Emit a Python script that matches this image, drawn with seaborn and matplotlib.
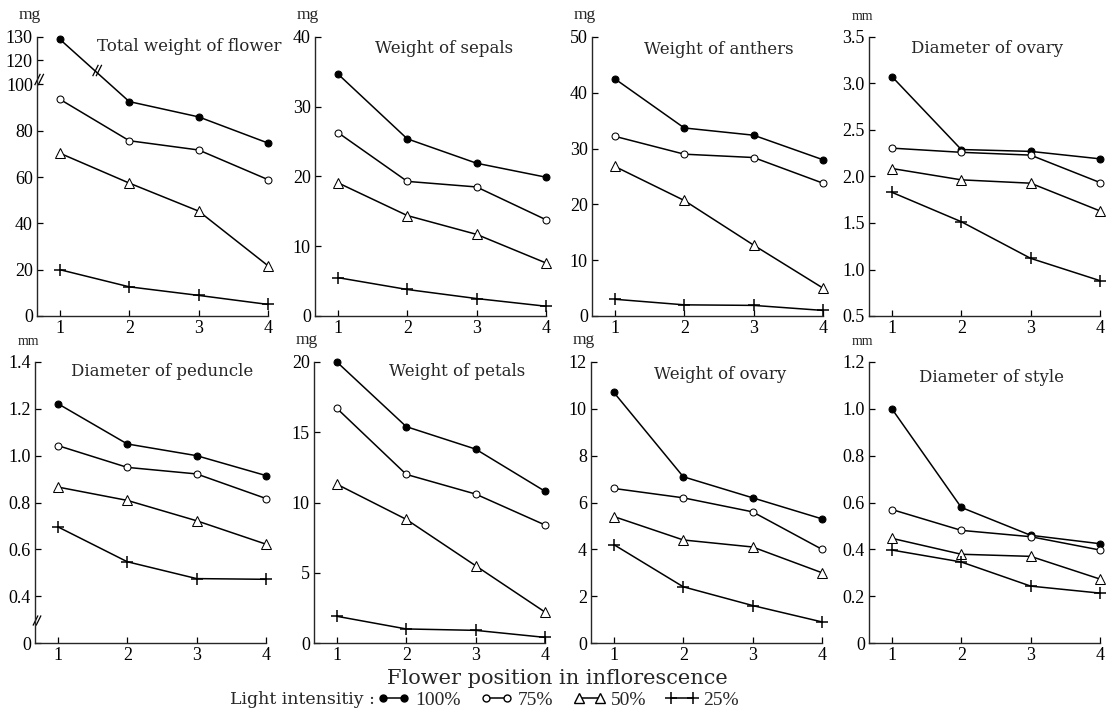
import numpy as np
import pandas as pd
import matplotlib
matplotlib.use("Agg")
import matplotlib.pyplot as plt
from matplotlib.path import Path
import seaborn as sns

# ---- data ----
positions = [1, 2, 3, 4]
levels = ["100%", "75%", "50%", "25%"]

# each panel: one list per light level, in order 100 / 75 / 50 / 25 %
total_flower = [[129, 92.6, 86, 74.7], [93.6, 75.7, 71.7, 58.9],
                [70.3, 57.4, 45.3, 21.7], [20, 12.6, 8.9, 5]]
sepals = [[34.7, 25.4, 21.9, 19.9], [26.3, 19.3, 18.5, 13.8],
          [19.1, 14.4, 11.7, 7.6], [5.5, 3.8, 2.5, 1.4]]
anthers = [[42.5, 33.7, 32.4, 28.0], [32.2, 29.0, 28.4, 23.8],
           [26.8, 20.7, 12.7, 5.0], [3.0, 2.0, 1.9, 1.0]]
ovary_diam = [[3.075, 2.29, 2.27, 2.19], [2.305, 2.26, 2.23, 1.935],
              [2.086, 1.964, 1.928, 1.63], [1.83, 1.514, 1.12, 0.88]]
peduncle = [[1.222, 1.05, 1.0, 0.915], [1.043, 0.95, 0.922, 0.817],
            [0.866, 0.809, 0.722, 0.622], [0.696, 0.547, 0.475, 0.472]]
petals = [[20.0, 15.4, 13.8, 10.8], [16.7, 12.0, 10.6, 8.4],
          [11.3, 8.8, 5.5, 2.2], [1.9, 1.0, 0.9, 0.4]]
ovary_weight = [[10.7, 7.1, 6.2, 5.3], [6.6, 6.2, 5.6, 4.0],
                [5.4, 4.4, 4.1, 3.0], [4.2, 2.4, 1.6, 0.9]]
style_diam = [[1.0, 0.579, 0.46, 0.424], [0.57, 0.481, 0.454, 0.397],
              [0.447, 0.379, 0.37, 0.273], [0.397, 0.346, 0.243, 0.213]]

titles = ["Total weight of flower", "Weight of sepals", "Weight of anthers", "Diameter of ovary",
          "Diameter of peduncle", "Weight of petals", "Weight of ovary", "Diameter of style"]
units = ["mg", "mg", "mg", "mm", "mm", "mg", "mg", "mm"]
panels = [total_flower, sepals, anthers, ovary_diam, peduncle, petals, ovary_weight, style_diam]
yticks = [[0, 20, 40, 60, 80, 100, 120, 130], [0, 10, 20, 30, 40], [0, 10, 20, 30, 40, 50],
          [0.5, 1.0, 1.5, 2.0, 2.5, 3.0, 3.5], [0, 0.4, 0.6, 0.8, 1.0, 1.2, 1.4],
          [0, 5, 10, 15, 20], [0, 2, 4, 6, 8, 10, 12], [0, 0.2, 0.4, 0.6, 0.8, 1.0, 1.2]]
ylabels = [["0", "20", "40", "60", "80", "100", "120", "130"], ["0", "10", "20", "30", "40"],
           ["0", "10", "20", "30", "40", "50"], ["0.5", "1.0", "1.5", "2.0", "2.5", "3.0", "3.5"],
           ["0", "0.4", "0.6", "0.8", "1.0", "1.2", "1.4"], ["0", "5", "10", "15", "20"],
           ["0", "2", "4", "6", "8", "10", "12"], ["0", "0.2", "0.4", "0.6", "0.8", "1.0", "1.2"]]
title_pos = [(0.66, 0.965), (0.56, 0.96), (0.55, 0.955), (0.51, 0.96),
             (0.55, 0.965), (0.62, 0.965), (0.56, 0.955), (0.53, 0.945)]

# marker styles per light level
styles = {
    "100%": dict(marker="o", markersize=5, markerfacecolor="black"),
    "75%": dict(marker="o", markersize=5, markerfacecolor="white"),
    "50%": dict(marker="^", markersize=7, markerfacecolor="white"),
    "25%": dict(marker="+", markersize=9, markeredgewidth=1.1),
}

sns.set_theme(style="ticks")
plt.rcParams["font.family"] = ["Liberation Serif", "DejaVu Serif"]
plt.rcParams["axes.linewidth"] = 1.0


# broken y axis for the first panel (100..110 squeezed out)
def fwd_total(v):
    v = np.asarray(v, dtype=float)
    return np.where(v <= 100, v, np.where(v <= 110, 100 + (v - 100) * 0.05, v - 9.5))


def inv_total(y):
    y = np.asarray(y, dtype=float)
    return np.where(y <= 100, y, np.where(y <= 100.5, 100 + (y - 100) / 0.05, y + 9.5))


# broken y axis for peduncle (0..0.4 squeezed)
def fwd_ped(v):
    v = np.asarray(v, dtype=float)
    return np.where(v >= 0.4, v, 0.2 + 0.5 * v)


def inv_ped(y):
    y = np.asarray(y, dtype=float)
    return np.where(y >= 0.4, y, (y - 0.2) * 2)


break_mark = Path([(-0.5, -1), (0.5, 1), (-0.5 + 0.6, -1), (0.5 + 0.6, 1)],
                  [Path.MOVETO, Path.LINETO, Path.MOVETO, Path.LINETO])

fig = plt.figure(figsize=(11.13, 7.13), dpi=100)
W, H = 1113, 713
row_px = [(37, 316), (362, 643)]
col_px = [[37, 315, 592, 869], [35, 314, 591, 869]]
width_px = 231

axes = []
for i in range(8):
    r, c = divmod(i, 4)
    top, bottom = row_px[r]
    left = col_px[r][c]
    ax = fig.add_axes([left / W, (H - bottom) / H, width_px / W, (bottom - top) / H])
    axes.append(ax)

    data = panels[i]
    rows = []
    for lvl, vals in zip(levels, data):
        for p, v in zip(positions, vals):
            rows.append({"pos": p, "value": v, "light": lvl})
    df = pd.DataFrame(rows)

    if i == 0:
        ax.set_yscale("function", functions=(fwd_total, inv_total))
    if i == 4:
        ax.set_yscale("function", functions=(fwd_ped, inv_ped))

    for lvl in levels:
        sub = df[df["light"] == lvl]
        sns.lineplot(data=sub, x="pos", y="value", ax=ax, color="black", linewidth=1.1,
                     markeredgecolor="black", clip_on=False, legend=False, **styles[lvl])

    ax.set_xlim(0.67, 4.0)
    ax.set_ylim(yticks[i][0], yticks[i][-1])
    ax.set_xticks(positions)
    ax.set_xticklabels([str(p) for p in positions])
    ax.set_yticks(yticks[i])
    ax.set_yticklabels(ylabels[i])
    ax.minorticks_off()
    ax.set_xlabel("")
    ax.set_ylabel("")
    sns.despine(ax=ax)
    ax.tick_params(direction="in", length=4, width=0.9, labelsize=13, pad=3, colors="black")
    ax.text(title_pos[i][0], title_pos[i][1], titles[i], transform=ax.transAxes,
            ha="center", va="center", fontsize=12, family=["DejaVu Serif"])
    ax.annotate(units[i], xy=(0, 1), xycoords="axes fraction", xytext=(-5, 10),
                textcoords="offset points", ha="center", va="bottom",
                fontsize=12.5 if units[i] == "mg" else 10)

# break marks
axes[0].plot([0.67], [112], marker=break_mark, markersize=9, color="black",
             linestyle="none", clip_on=False, markeredgewidth=0.9)
mid = float(inv_total((fwd_total(total_flower[0][0]) + fwd_total(total_flower[0][1])) / 2))
axes[0].plot([1.5], [mid], marker=break_mark, markersize=9, color="black",
             linestyle="none", clip_on=False, markeredgewidth=0.9)
axes[4].plot([0.67], [0.2], marker=break_mark, markersize=8, color="black",
             linestyle="none", clip_on=False, markeredgewidth=0.9)

fig.text(557 / W, (H - 679) / H, "Flower position in inflorescence", ha="center", va="center",
         fontsize=15, family=["DejaVu Serif"])
fig.text(375 / W, (H - 700) / H, "Light intensitiy :", ha="right", va="center",
         fontsize=12.5, family=["DejaVu Serif"])

handles = []
for lvl in levels:
    h, = axes[0].plot([], [], color="black", linewidth=1.1, markeredgecolor="black", **styles[lvl])
    handles.append(h)
fig.legend(handles, levels, loc="center left", bbox_to_anchor=(377 / W, (H - 700) / H),
           ncol=4, frameon=False, numpoints=2, handlelength=1.7, handletextpad=0.25,
           columnspacing=1.0, fontsize=14, borderpad=0, borderaxespad=0)

fig.savefig("out.png", dpi=100)
